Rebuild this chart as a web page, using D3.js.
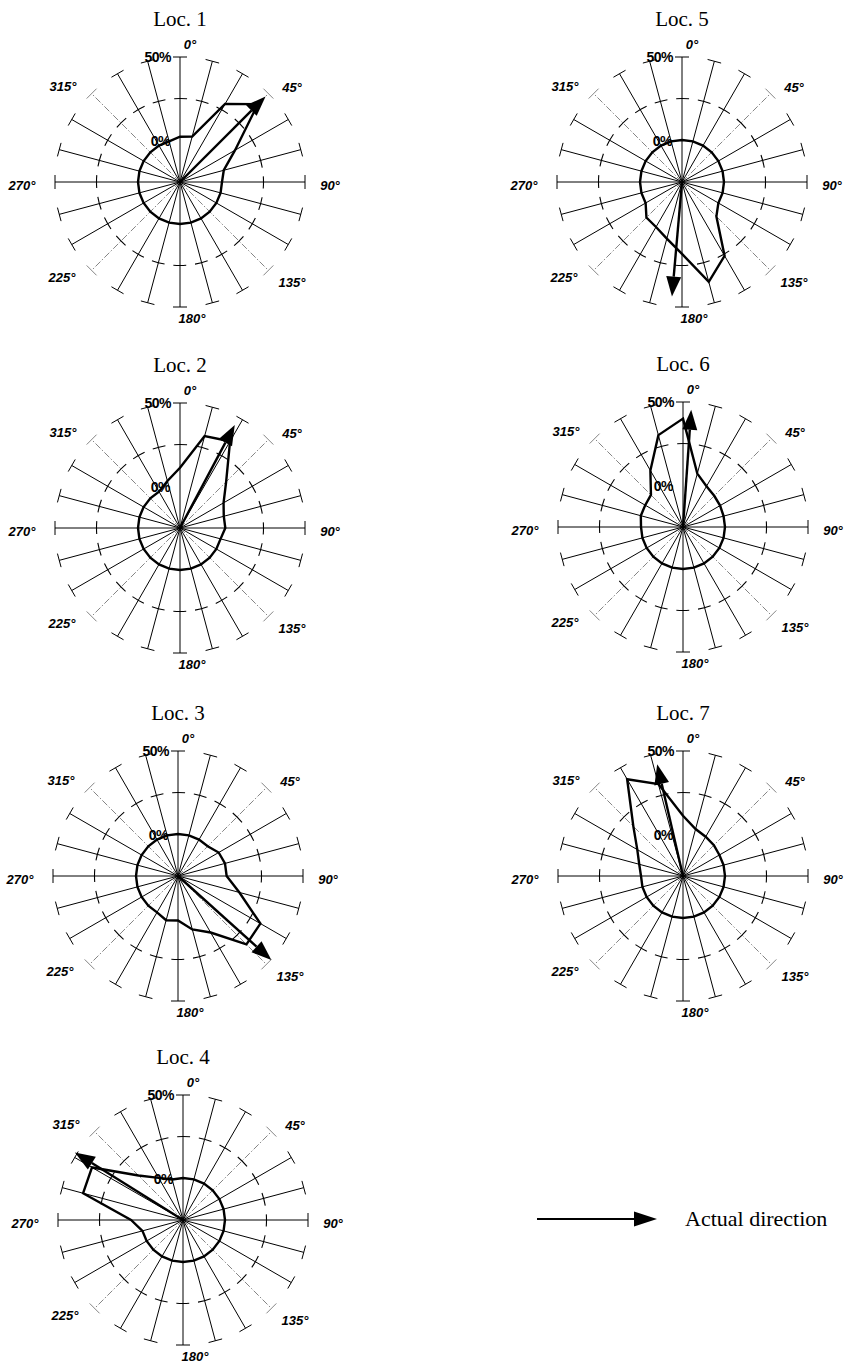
<!DOCTYPE html>
<html><head><meta charset="utf-8">
<script src="https://cdn.jsdelivr.net/npm/d3@7"></script>
<style>
body{margin:0;background:#fff;}
svg{display:block;}
</style></head>
<body>
<svg id="chart" width="850" height="1365"></svg>
<script>
// ---- data ----
const directions = d3.range(0, 360, 15); // degrees
const locNames = ["Loc. 1","Loc. 2","Loc. 3","Loc. 4","Loc. 5","Loc. 6","Loc. 7"];
const loc1 = [2,3,29,41,13,2,0,0,0,0,0,0,0,0,0,0,0,0,0,0,0,0,0,0];
const loc2 = [11,32,35,14,5,2,2,0,0,0,0,0,0,0,0,0,0,0,0,0,0,0,0,4];
const loc3 = [0,0,0,0,3,4,4,13,32,33,14,8,1.5,2.3,0,0,0,0,0,0,0,0,0,0];
const loc4 = [0,0,0,0,0,0,0,0,0,0,0,0,0,0,0,0,0,0,6,37,38,12.6,4,0];
const loc5 = [0,0,0,0,0,0,0,0,0,4,26,37,18,10,6,5,0,0,0,0,0,0,0,0];
const loc6 = [40,8,3,1.3,0.5,0,0,0,0,0,0,0,0,0,0,0,0,0,0,1,1,2,14,32];
const loc7 = [11,4,2,1,0,0,0,0,0,0,0,0,0,0,0,0,0,0,0,2,6.5,17,42,32];
const series = [loc1,loc2,loc3,loc4,loc5,loc6,loc7];
const arrowDir = [45,28,132,302,185,4,347];      // actual direction, degrees
const arrowLen = [47.6,45,50.4,51.5,44,45.5,43.8]; // in % scale units
const radialTicks = [0,25,50];
const angleLabels = [0,45,90,135,180,225,270,315];

// ---- layout ----
const centers = [[180,182],[180,528],[178,876],[183,1220],[682,182],[683,527],[683,876]];
const labelOffset = {0:[10,-137],45:[112,-94],90:[150,4],135:[112,101],180:[12,137],225:[-118,96],270:[-158,4],315:[-117,-95]};

const svg = d3.select("#chart");
const r = d3.scaleLinear().domain([0,50]).range([42,125]);
const rad = d => d*Math.PI/180;
const polar = (deg, rr) => [rr*Math.sin(rad(deg)), -rr*Math.cos(rad(deg))];

const sansB = "'Liberation Sans', Arial, sans-serif";

function arrowHead(g, deg, tipR, headLen, headW, shaftW){
  const tip = polar(deg, tipR);
  const base = polar(deg, tipR-headLen);
  const px = Math.cos(rad(deg)), py = Math.sin(rad(deg));
  g.append("line").attr("x1",0).attr("y1",0).attr("x2",base[0]).attr("y2",base[1])
    .attr("stroke","#000").attr("stroke-width",shaftW);
  const p = d3.path();
  p.moveTo(tip[0],tip[1]);
  p.lineTo(base[0]+px*headW/2, base[1]+py*headW/2);
  p.lineTo(base[0]-px*headW/2, base[1]-py*headW/2);
  p.closePath();
  g.append("path").attr("d",p.toString()).attr("fill","#000");
}

locNames.forEach((name,i)=>{
  const [cx,cy] = centers[i];
  const g = svg.append("g").attr("transform",`translate(${cx},${cy})`);

  // title
  g.append("text").attr("x",0).attr("y",-156).attr("text-anchor","middle")
    .attr("font-family","'Liberation Serif','Times New Roman',serif").attr("font-size",21)
    .text(name);

  // spokes with end caps
  const R = r(50);
  directions.forEach(d=>{
    const diag = d % 90 === 45;
    const end = polar(d, R);
    const px = Math.cos(rad(d))*7, py = Math.sin(rad(d))*7;
    const col = diag ? "#666" : "#000";
    g.append("line").attr("x1",0).attr("y1",0).attr("x2",end[0]).attr("y2",end[1])
      .attr("stroke",col).attr("stroke-width",diag?0.8:1)
      .attr("stroke-dasharray",diag?"7 2 1.5 2":null);
    g.append("line").attr("x1",end[0]-px).attr("y1",end[1]-py)
      .attr("x2",end[0]+px).attr("y2",end[1]+py)
      .attr("stroke",col).attr("stroke-width",diag?0.8:1);
  });

  // dashed 25% ring, dashes centred on spokes
  const rr = r(radialTicks[1]);
  const per = 2*Math.PI*rr/directions.length;
  const dash = per*0.6;
  g.append("circle").attr("r",rr).attr("fill","none").attr("stroke","#000")
    .attr("stroke-width",1.1)
    .attr("stroke-dasharray",`${dash} ${per-dash}`)
    .attr("stroke-dashoffset",dash/2);

  // data polygon
  const pts = directions.map((d,k)=>({a:rad(d), v:series[i][k]}));
  const line = d3.lineRadial().angle(d=>d.a).radius(d=>r(d.v)).curve(d3.curveLinearClosed);
  g.append("path").attr("d",line(pts)).attr("fill","none")
    .attr("stroke","#000").attr("stroke-width",2.4).attr("stroke-linejoin","miter");

  // actual direction arrow
  arrowHead(g, arrowDir[i], r(arrowLen[i]), 20, 15, 2.4);

  // radial labels
  g.append("text").attr("x",-9).attr("y",-r(radialTicks[2])+5).attr("text-anchor","end")
    .attr("font-family",sansB).attr("font-weight","bold").attr("font-size",14)
    .attr("letter-spacing",-0.5).text(radialTicks[2]+"%");
  g.append("text").attr("x",-10).attr("y",-r(radialTicks[0])+6).attr("text-anchor","end")
    .attr("font-family",sansB).attr("font-weight","bold").attr("font-size",14)
    .attr("letter-spacing",-0.5).text(radialTicks[0]+"%");

  // angle labels
  angleLabels.forEach(a=>{
    const o = labelOffset[a];
    g.append("text").attr("x",o[0]).attr("y",o[1]+4).attr("text-anchor","middle")
      .attr("font-family",sansB).attr("font-weight","bold").attr("font-style","italic")
      .attr("font-size",13).text(a+"°");
  });
});

// legend
const lg = svg.append("g").attr("transform","translate(537,1219)");
(function(){
  const len = 120, head = 23, w = 15;
  lg.append("line").attr("x1",0).attr("y1",0).attr("x2",len-head).attr("y2",0)
    .attr("stroke","#000").attr("stroke-width",2);
  lg.append("path").attr("d",`M${len},0L${len-head},${-w/2}L${len-head},${w/2}Z`).attr("fill","#000");
  lg.append("text").attr("x",148).attr("y",7).attr("font-family","'Liberation Serif','Times New Roman',serif")
    .attr("font-size",22).text("Actual direction");
})();
</script>
</body></html>
